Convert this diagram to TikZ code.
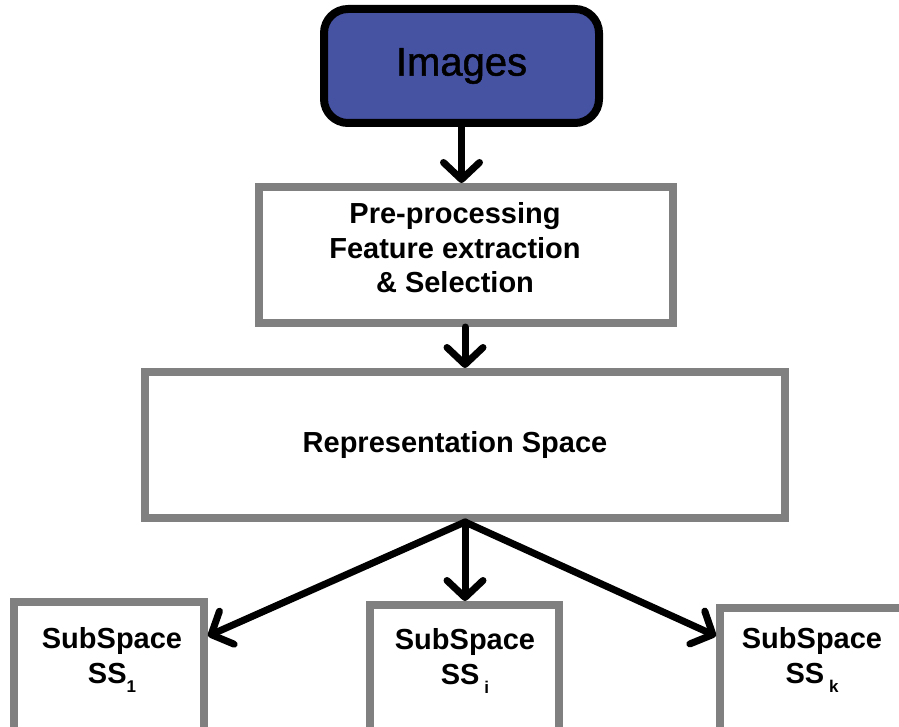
\documentclass[tikz,border=0pt]{standalone}
\usepackage{fontspec}
\setmainfont{Liberation Sans}
\newfontfamily\headfont[FakeBold=1.2]{Liberation Sans}
\usetikzlibrary{arrows.meta,calc}
\definecolor{imgblue}{RGB}{70,82,162}
\definecolor{boxgray}{RGB}{128,128,128}
\newcommand{\lowsub}[1]{\raisebox{-0.3em}{\fontsize{17}{17}\selectfont #1}}
\begin{document}
\begin{tikzpicture}[x=1pt,y=-1pt,
  graybox/.style={draw=boxgray,line width=8pt,fill=white,inner sep=0pt},
  lbl/.style={font=\bfseries\fontsize{29}{34.5}\selectfont,align=center,inner sep=0pt},
  flow/.style={line width=7pt,line cap=round,
    -{Straight Barb[length=17pt,width=36pt,line width=7pt,round]}}]
\useasboundingbox (0,0) rectangle (899,727);

% source
\node[draw=black,line width=8pt,fill=imgblue,rounded corners=24pt,
      minimum width=275pt,minimum height=114pt,inner sep=0pt,
      font=\headfont\fontsize{40}{42}\selectfont] (img) at (461.5,66) {Images};

% processing stages
\node[graybox,minimum width=414pt,minimum height=136pt] (pre) at (466,255) {};
\node[lbl] (pretxt) at (455,248) {Pre-processing\\Feature extraction\\\& Selection};

\node[graybox,minimum width=640pt,minimum height=146pt] (rep) at (465,445) {};
\node[lbl] (reptxt) at (455,445) {Representation Space};

% subspaces
\node[graybox,minimum width=190pt,minimum height=168pt] (ss1) at (109,686) {};
\node[graybox,minimum width=189pt,minimum height=168pt] (ssi) at (464.5,689) {};
\node[graybox,minimum width=190pt,minimum height=168pt] (ssk) at (815,692) {};
\node[lbl] (ss1txt) at (112,660) {SubSpace\\SS\lowsub{1}};
\node[lbl] (ssitxt) at (465,661) {SubSpace\\SS\,\lowsub{i}};
\node[lbl] (ssktxt) at (812,660) {SubSpace\\SS\,\lowsub{k}};

% connectors
\draw[flow] (img.south) -- (img.south |- pre.north);
\draw[flow] (pre.south -| rep.north) -- (rep.north);
\coordinate (fork) at (rep.south);
\draw[flow] (fork) -- ([yshift=-38pt]ss1.north east);
\draw[flow] (fork) -- (fork |- ssi.north);
\draw[flow] (fork) -- ([yshift=-32pt]ssk.north west);
\end{tikzpicture}
\end{document}
